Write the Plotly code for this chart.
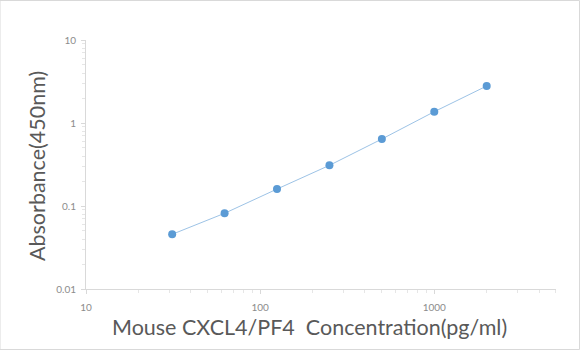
import plotly.graph_objects as go

conc = [31.25, 62.5, 125, 250, 500, 1000, 2000]
absorb = [0.0456, 0.0817, 0.160, 0.309, 0.641, 1.368, 2.79]
x_ticks = [10, 100, 1000]
x_tick_text = ["10", "100", "1000"]
y_ticks = [0.01, 0.1, 1, 10]
y_tick_text = ["0.01", "0.1", "1", "10"]

fig = go.Figure()
fig.add_trace(go.Scatter(
    x=conc, y=absorb, mode="lines+markers",
    line=dict(color="#9DC3E6", width=1),
    marker=dict(color="#5B9BD5", size=8),
    showlegend=False,
))

font = "Lato, Open Sans, sans-serif"
W, H = 470, 249
fig.update_layout(
    width=580, height=350,
    margin=dict(l=86, r=24, t=40, b=61),
    paper_bgcolor="white", plot_bgcolor="white",
    font=dict(family=font, color="#595959"),
    xaxis=dict(
        type="log", range=[1, 3.699],
        tickvals=x_ticks, ticktext=x_tick_text,
        tickfont=dict(size=10, color="#8c8c8c"),
        showgrid=False, zeroline=False,
        showline=True, linecolor="#D9D9D9", linewidth=1,
        ticks="outside", ticklen=4, tickcolor="#D9D9D9",
        ticklabelstandoff=5,
        minor=dict(ticks="outside", ticklen=3, tickcolor="#E6E6E6",
                   dtick="D1", showgrid=False),
    ),
    yaxis=dict(
        type="log", range=[-2, 1],
        tickvals=y_ticks, ticktext=y_tick_text,
        tickfont=dict(size=10, color="#8c8c8c"),
        showgrid=False, zeroline=False,
        showline=True, linecolor="#D9D9D9", linewidth=1,
        ticks="outside", ticklen=4, tickcolor="#D9D9D9",
        ticklabelstandoff=3,
        minor=dict(ticks="outside", ticklen=3, tickcolor="#E6E6E6",
                   dtick="D1", showgrid=False),
    ),
    annotations=[
        dict(text="Mouse CXCL4/PF4  Concentration(pg/ml)", xref="paper", yref="paper",
             x=(309 - 86) / W, y=(289 - 327) / H, xanchor="center", yanchor="middle",
             showarrow=False, font=dict(size=21.5, color="#595959")),
        dict(text="Absorbance(450nm)", xref="paper", yref="paper",
             x=(37 - 86) / W, y=(289 - 166) / H, xanchor="center", yanchor="middle",
             textangle=-90, showarrow=False, font=dict(size=21.5, color="#595959")),
    ],
)
fig.add_shape(type="rect", xref="paper", yref="paper",
              x0=-86/W, x1=1 + 23.5/W, y0=-60.5/H, y1=1 + 39.5/H,
              line=dict(color="#D9D9D9", width=1), fillcolor="rgba(0,0,0,0)",
              layer="below")
fig.write_html("out.html")
